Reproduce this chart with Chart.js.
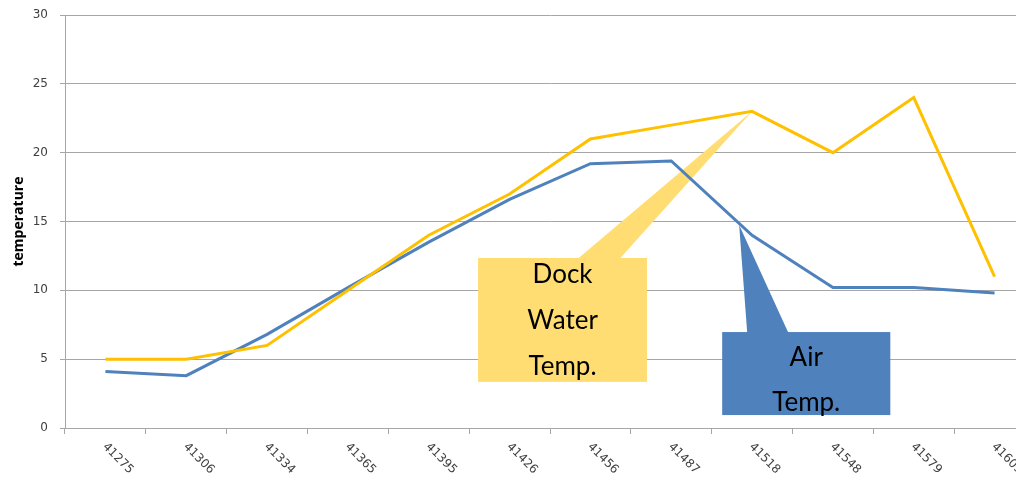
<!DOCTYPE html>
<html>
<head>
<meta charset="utf-8">
<script src="https://cdn.jsdelivr.net/npm/chart.js@4"></script>
<style>
  html, body { margin: 0; padding: 0; background: #fff; overflow: hidden; }
  #wrap { position: relative; width: 1040px; height: 479px; }
</style>
</head>
<body>
<div id="wrap"><canvas id="grafico"></canvas></div>
<script>
// dados
const dates = ["41275", "41306", "41334", "41365", "41395", "41426", "41456", "41487", "41518", "41548", "41579", "41609"];
const dockWater = [5, 5, 6, 10, 14, 17, 21, 22, 23, 20, 24, 11];
const airTemp = [4.1, 3.8, 6.8, 10.2, 13.5, 16.6, 19.2, 19.4, 14, 10.2, 10.2, 9.8];
const yTicks = [0, 5, 10, 15, 20, 25, 30];

const gridColor = "#a6a6a6";
const tickFont = "12px 'DejaVu Sans'";

// balões (em unidades de índice / valor)
const callouts = [
  { lines: ["Dock", "Water", "Temp."], color: "#ffdd72",
    box: [4.61, 12.35, 6.70, 3.35], tip: [8, 23], base: [5.84, 6.36], baselines: [10.5, 7.2, 3.85] },
  { lines: ["Air", "Temp."], color: "#4f81bd",
    box: [7.63, 6.97, 9.71, 0.94], tip: [7.84, 14.75], base: [7.94, 8.45], baselines: [4.5, 1.2] }
];

const calloutPlugin = {
  id: "callouts",
  beforeDatasetsDraw(chart) {
    const ctx = chart.ctx, x = chart.scales.x, y = chart.scales.y;
    callouts.forEach(c => {
      const x0 = x.getPixelForValue(c.box[0]), y0 = y.getPixelForValue(c.box[1]);
      const x1 = x.getPixelForValue(c.box[2]), y1 = y.getPixelForValue(c.box[3]);
      ctx.save();
      ctx.fillStyle = c.color;
      ctx.fillRect(x0, y0, x1 - x0, y1 - y0);
      ctx.beginPath();
      ctx.moveTo(x.getPixelForValue(c.tip[0]), y.getPixelForValue(c.tip[1]));
      ctx.lineTo(x.getPixelForValue(c.base[0]), y0 + 1);
      ctx.lineTo(x.getPixelForValue(c.base[1]), y0 + 1);
      ctx.closePath();
      ctx.fill();
      ctx.fillStyle = "#000";
      ctx.font = "26px Lato";
      ctx.textAlign = "center";
      ctx.textBaseline = "alphabetic";
      c.lines.forEach((t, i) => ctx.fillText(t, (x0 + x1) / 2, y.getPixelForValue(c.baselines[i])));
      ctx.restore();
    });
  }
};

// rótulos do eixo x inclinados para baixo
const xLabelPlugin = {
  id: "xlabels",
  afterDraw(chart) {
    const ctx = chart.ctx, x = chart.scales.x;
    ctx.save();
    ctx.font = tickFont;
    ctx.fillStyle = "#404040";
    ctx.textAlign = "left";
    ctx.textBaseline = "middle";
    dates.forEach((d, i) => {
      ctx.save();
      ctx.translate(x.getPixelForValue(i) - 1, x.top + 17);
      ctx.rotate(Math.PI / 4);
      ctx.fillText(d, 0, 0);
      ctx.restore();
    });
    ctx.restore();
  }
};

new Chart(document.getElementById("grafico"), {
  type: "line",
  data: {
    labels: dates,
    datasets: [
      { label: "Dock Water Temp.", data: dockWater, borderColor: "#ffc000", borderWidth: 3, pointRadius: 0, tension: 0 },
      { label: "Air Temp.", data: airTemp, borderColor: "#4f81bd", borderWidth: 3, pointRadius: 0, tension: 0 }
    ]
  },
  options: {
    responsive: true,
    maintainAspectRatio: false,
    animation: false,
    layout: { padding: { top: 15, right: 5, left: 0, bottom: 0 } },
    plugins: { legend: { display: false }, tooltip: { enabled: false } },
    scales: {
      x: {
        offset: true,
        grid: { offset: true, drawOnChartArea: false, drawTicks: true, tickLength: 6, color: gridColor },
        border: { color: gridColor },
        ticks: { display: false },
        afterFit(scale) { scale.height = 51; scale.paddingLeft = 0; scale.paddingRight = 0; }
      },
      y: {
        min: 0,
        max: 30,
        afterBuildTicks(scale) { scale.ticks = yTicks.map(v => ({ value: v })); },
        grid: { color: gridColor, tickLength: 5 },
        border: { color: gridColor },
        ticks: { font: { family: "DejaVu Sans", size: 12 }, color: "#404040", padding: 12 },
        title: { display: true, text: "temperature", font: { family: "Open Sans", size: 14, weight: "bold" }, color: "#000", padding: { top: 11, bottom: 0 } },
        afterFit(scale) { scale.width = 65; scale.paddingTop = 0; scale.paddingBottom = 0; }
      }
    }
  },
  plugins: [calloutPlugin, xLabelPlugin]
});
</script>
</body>
</html>
